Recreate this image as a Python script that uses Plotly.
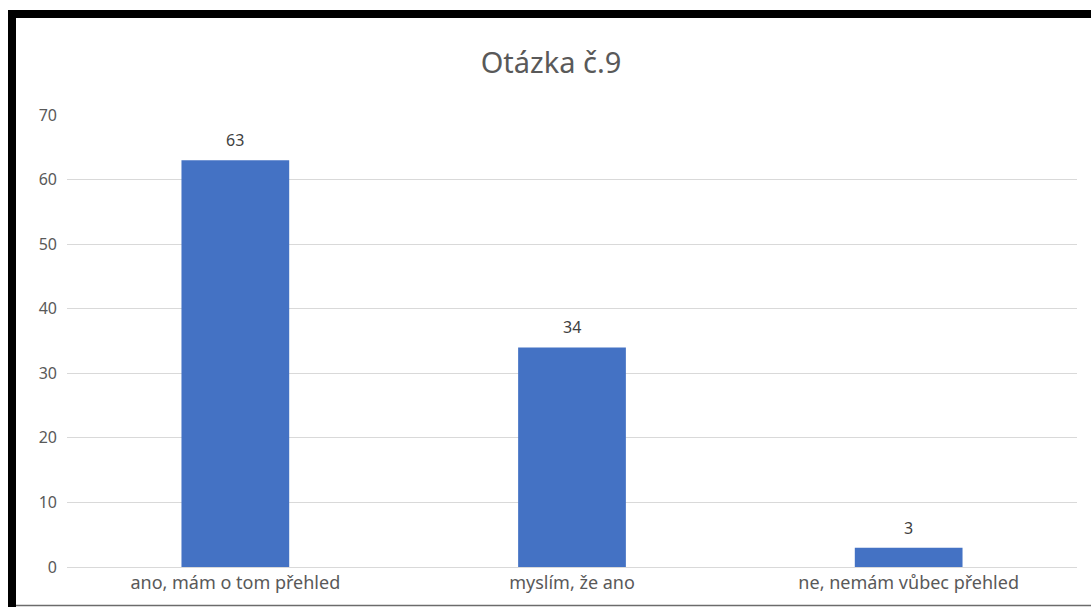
import plotly.graph_objects as go

categories = ["ano, mám o tom přehled", "myslím, že ano", "ne, nemám vůbec přehled"]
values = [63, 34, 3]
y_ticks = [0, 10, 20, 30, 40, 50, 60, 70]
title_text = "Otázka č.9"

W, H = 1091, 607
L, R, T, B = 67, 14, 115, 40
pw, ph = W - L - R, H - T - B

def px(x):
    return (x - L) / pw

def py(y):
    return (H - B - y) / ph

FONT = "Noto Sans"
GRAY = "#595959"

fig = go.Figure()
fig.add_trace(go.Bar(
    x=categories, y=values,
    marker=dict(color="#4472C4", line=dict(width=0)),
    width=0.32,
    hoverinfo="skip",
))

for c, v in zip(categories, values):
    fig.add_annotation(x=c, y=v, text=str(v), showarrow=False, yanchor="bottom",
                       yshift=7, font=dict(family=FONT, size=16, color="#404040"))

shapes = [
    dict(type="rect", xref="paper", yref="paper", x0=px(8), x1=px(W + 5), y0=py(18), y1=py(10),
         fillcolor="black", line=dict(width=0), layer="above"),
    dict(type="rect", xref="paper", yref="paper", x0=px(8), x1=px(16), y0=py(H + 5), y1=py(10),
         fillcolor="black", line=dict(width=0), layer="above"),
    dict(type="line", xref="paper", yref="paper", x0=px(16), x1=px(W + 5), y0=py(605.5), y1=py(605.5),
         line=dict(color="#6b6b6b", width=1.5), layer="above"),
]

fig.update_layout(
    width=W, height=H,
    margin=dict(l=L, r=R, t=T, b=B, pad=0),
    paper_bgcolor="white", plot_bgcolor="white",
    title=dict(text=title_text, x=px(551), xref="paper", xanchor="center", y=1 - 63 / H, yanchor="middle",
               font=dict(family=FONT, size=29, color=GRAY)),
    showlegend=False,
    shapes=shapes,
    xaxis=dict(showgrid=False, showline=False, ticks="", ticklabelstandoff=3,
               tickfont=dict(family=FONT, size=18, color=GRAY), fixedrange=True),
    yaxis=dict(range=[0, 70], tickvals=y_ticks, showgrid=True, gridcolor="#D9D9D9", gridwidth=1,
               zeroline=True, zerolinecolor="#D9D9D9", zerolinewidth=1, showline=False, ticks="",
               ticklabelstandoff=9,
               tickfont=dict(family=FONT, size=16, color=GRAY), fixedrange=True),
)

fig.write_html("out.html", config={"displayModeBar": False},
               post_script="document.body.style.margin='0';")
